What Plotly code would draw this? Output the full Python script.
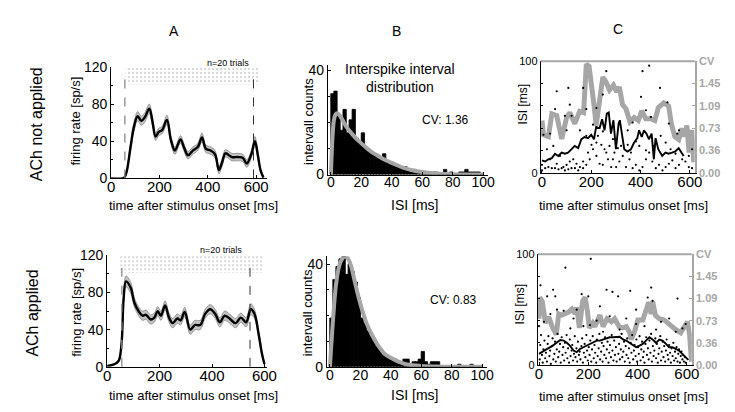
import plotly.graph_objects as go

FONT = "Liberation Sans, Arial, sans-serif"
W, H = 735, 412
GREY = "#a6a6a6"

# ---------------- panel A : PSTH, firing rate [sp/s] ----------------
psth_t_top = [0, 45, 55, 65, 80, 95, 110, 125, 140, 158, 172, 184, 197, 211, 231, 247, 264, 287, 302, 318,
              338, 359, 376, 392, 412, 430, 446, 460, 473, 500, 527, 545, 561, 580, 595, 607, 618, 630]
psth_r_top = [0, 0, 1, 8, 33, 56, 67, 62, 66, 75, 60, 45, 50, 52, 63, 42, 30, 42, 33, 25,
              30, 34, 44, 32, 30, 26, 9, 18, 27, 23, 23, 22, 16, 26, 40, 25, 9, 1]
psth_sem_top = [0, 0, 1, 2, 4, 5, 5, 5, 5, 5, 5, 4, 4, 4, 5, 4, 4, 4, 4, 4,
                4, 4, 5, 4, 4, 4, 4, 4, 4, 4, 4, 4, 4, 4, 5, 4, 2, 1]

psth_t_bot = [0, 20, 35, 45, 55, 63, 72, 90, 104, 122, 135, 148, 166, 180, 193, 205, 221, 236, 250, 268,
              280, 296, 317, 335, 355, 374, 393, 412, 430, 448, 467, 490, 510, 530, 548, 562, 578, 590, 600]
psth_r_bot = [1, 2, 4, 7, 25, 74, 92, 85, 69, 59, 55, 56, 51, 53, 60, 55, 66, 53, 47, 52,
              50, 59, 40, 45, 45, 57, 62, 57, 48, 55, 52, 47, 53, 48, 62, 57, 35, 15, 3]
psth_sem_bot = [0, 1, 1, 2, 3, 5, 6, 6, 5, 5, 5, 5, 5, 5, 5, 5, 5, 5, 5, 5,
                5, 5, 5, 5, 5, 5, 5, 5, 5, 5, 5, 5, 5, 5, 6, 5, 4, 2, 1]

# stimulus on / off (dashed lines) and extent of the spike raster (20 trials)
stim_top = [57, 589]
stim_bot = [56, 545]
raster_top = dict(t0=60, t1=612, lo=101, hi=119)
raster_bot = dict(t0=50, t1=596, lo=101, hi=120)

# ---------------- panel B : ISI histograms (2 ms bins) ----------------
isi_bins = list(range(1, 100, 2))
isi_counts_top = [31, 32, 23, 17, 25, 16, 21, 25, 14, 12, 16, 10, 9, 8, 8, 7, 6, 8, 5, 4,
                  4, 3, 3, 2, 3, 2, 1, 2, 1, 1, 1, 1, 0, 1, 1, 0, 0, 2, 0, 1,
                  0, 0, 1, 1, 2, 1, 1, 1, 1, 0]
isi_counts_bot = [19, 34, 39, 42, 43, 36, 40, 37, 33, 27, 19, 17, 14, 12, 10, 8, 7, 5, 4, 4,
                  3, 3, 2, 2, 3, 3, 1, 2, 2, 3, 6, 2, 1, 2, 2, 2, 0, 0, 0, 0,
                  0, 0, 1, 0, 0, 0, 1, 0, 0, 0]
fit_x_top = [0, 1, 2, 3, 4, 6, 8, 10, 14, 18, 22, 26, 30, 35, 40, 45, 50, 55, 60, 70, 80, 90, 100]
fit_y_top = [0, 14, 21, 23, 23.5, 22.5, 20.5, 18.5, 15.5, 13, 11, 9, 7.5, 5.8, 4.5, 3.2, 2.2, 1.5, 1,
             0.4, 0.15, 0.05, 0]
fit_x_bot = [0, 2, 4, 6, 8, 10, 12, 14, 16, 18, 20, 24, 28, 32, 36, 40, 45, 50, 60, 70, 80, 90, 100]
fit_y_bot = [0, 18, 32, 39, 42, 43, 42, 39, 34, 29, 24.5, 17, 12, 8, 5, 3.5, 2, 1, 0.3, 0.1, 0, 0, 0]
cv_text = ["CV: 1.36", "CV: 0.83"]

# ---------------- panel C : ISI vs time, running mean and CV ----------------
dots_top = [(261, 91), (408, 91), (435, 96), (107, 76), (60, 73), (167, 76), (479, 76), (402, 68), (247, 70),
            (113, 61), (53, 57), (93, 51), (120, 51), (180, 57), (221, 58), (368, 45), (422, 56), (442, 50),
            (509, 63), (515, 44), (556, 38), (549, 35), (6, 34), (33, 35), (100, 38), (154, 38), (207, 43),
            (288, 30), (348, 38), (247, 37), (180, 33), (301, 27), (381, 28), (0, 7), (20, 21), (46, 24),
            (73, 15), (33, 12), (60, 8), (87, 5), (100, 7), (113, 10), (127, 12), (140, 8), (154, 5),
            (167, 4), (180, 7), (194, 12), (207, 21), (221, 15), (234, 8), (247, 7), (261, 18), (274, 24),
            (288, 12), (301, 5), (314, 10), (328, 15), (341, 5), (355, 12), (368, 4), (381, 7), (395, 2),
            (408, 5), (422, 12), (435, 18), (448, 10), (462, 4), (475, 7), (489, 2), (502, 5), (515, 8),
            (529, 11), (542, 4), (556, 7), (569, 12), (582, 10), (596, 5), (609, 4), (40, 4), (53, 4),
            (67, 3), (80, 4), (93, 2), (107, 3), (120, 4), (134, 4), (147, 2), (0, 2), (13, 4), (26, 5),
            (167, 10), (187, 18), (201, 25), (221, 27), (227, 33), (241, 25), (254, 21), (268, 12),
            (281, 5), (294, 18), (308, 22), (321, 24), (348, 25), (361, 18), (395, 24), (422, 20),
            (455, 24), (482, 33), (502, 27), (522, 21), (542, 17), (596, 15), (609, 21)]
mean_t_top = [0, 13, 26, 40, 53, 66, 80, 93, 106, 120, 133, 147, 160, 173, 187, 200, 211, 220, 234, 244,
              254, 263, 271, 280, 290, 300, 311, 316, 324, 334, 347, 361, 374, 387, 394, 405, 414, 424, 434,
              445, 454, 461, 472, 488, 501, 514, 528, 541, 555, 568, 575]
mean_isi_top = [11, 10, 12, 13, 17, 15, 18, 17, 18, 21, 24, 22, 30, 32, 31, 34, 30, 41, 40, 48,
                38, 53, 54, 35, 47, 21, 44, 47, 35, 21, 19, 21, 27, 31, 38, 32, 38, 35, 30,
                35, 12, 31, 21, 15, 18, 17, 18, 19, 22, 18, 15]
cv_t_top = [0, 6, 26, 40, 60, 80, 100, 113, 133, 153, 169, 180, 191, 201, 211, 220, 234, 247, 260, 274,
            290, 303, 314, 327, 341, 357, 374, 391, 405, 421, 441, 458, 472, 494, 514, 525, 539, 555, 568,
            579, 588, 597, 608, 616]
cv_top = [0.85, 0.62, 0.59, 0.96, 0.93, 0.55, 0.90, 0.98, 0.80, 1.00, 0.98, 1.77, 1.74, 1.48, 1.11, 0.77,
          1.27, 1.56, 1.48, 1.35, 1.43, 1.32, 1.40, 1.11, 1.04, 0.83, 0.90, 0.85, 1.01, 0.88, 0.88, 0.85,
          1.06, 1.14, 1.09, 0.80, 0.59, 0.54, 0.72, 0.59, 0.77, 0.33, 0.70, 0.17]

dots_bot = [(210, 96), (107, 88), (6, 72), (57, 68), (33, 62), (66, 62), (173, 64), (200, 62), (274, 68),
            (298, 66), (321, 62), (370, 67), (455, 70), (562, 60), (441, 61), (247, 53), (394, 50),
            (461, 58), (73, 50), (100, 49), (153, 50), (46, 46), (140, 42), (234, 40), (287, 44), (207, 36),
            (354, 42), (394, 37), (495, 39), (528, 42), (582, 33), (595, 37), (0, 35), (20, 39), (127, 33),
            (180, 35), (260, 30), (327, 32), (428, 35), (475, 32), (555, 30),
            (3, 5), (5, 18), (8, 27), (12, 9), (15, 2), (18, 14), (22, 22), (25, 6), (28, 11), (32, 3),
            (35, 19), (38, 26), (42, 8), (45, 13), (48, 1), (52, 17), (55, 24), (58, 5), (62, 10), (65, 21),
            (68, 3), (72, 14), (75, 28), (78, 7), (82, 12), (85, 19), (88, 2), (92, 25), (95, 9), (98, 16),
            (102, 4), (105, 20), (108, 11), (112, 27), (115, 6), (118, 15), (122, 2), (125, 23), (128, 8),
            (132, 13), (135, 18), (138, 4), (142, 10), (145, 26), (148, 7), (152, 15), (155, 3), (158, 21),
            (162, 9), (165, 12), (168, 5), (172, 17), (175, 24), (178, 2), (182, 11), (185, 19), (188, 7),
            (192, 27), (195, 13), (198, 4), (202, 16), (205, 9), (208, 22), (212, 3), (215, 14), (218, 26),
            (222, 6), (225, 18), (228, 11), (232, 2), (235, 23), (238, 8), (242, 15), (245, 28), (248, 5),
            (252, 12), (255, 20), (258, 3), (262, 17), (265, 9), (268, 25), (272, 6), (275, 14), (278, 21),
            (282, 2), (285, 11), (288, 18), (292, 7), (295, 27), (298, 13), (302, 4), (305, 22), (308, 9),
            (312, 16), (315, 3), (318, 25), (322, 10), (325, 19), (328, 5), (332, 14), (335, 28), (338, 7),
            (342, 12), (345, 21), (348, 3), (352, 17), (355, 9), (358, 24), (362, 6), (365, 15), (368, 2),
            (372, 20), (375, 11), (378, 27), (382, 5), (385, 13), (388, 18), (392, 8), (395, 23), (398, 3),
            (402, 16), (405, 10), (408, 26), (412, 4), (415, 14), (418, 21), (422, 7), (425, 12), (428, 2),
            (432, 19), (435, 25), (438, 9), (442, 15), (445, 5), (448, 22), (452, 11), (455, 28), (458, 3),
            (462, 17), (465, 8), (468, 13), (472, 24), (475, 6), (478, 19), (482, 2), (485, 10), (488, 15),
            (492, 26), (495, 4), (498, 12), (502, 21), (505, 7), (508, 17), (512, 3), (515, 13), (518, 23),
            (522, 9), (525, 5), (528, 18), (532, 11), (535, 2), (538, 15), (542, 8), (545, 20), (548, 4),
            (552, 12), (555, 6), (558, 16), (562, 3), (565, 10), (568, 14), (572, 2), (575, 8), (578, 12),
            (582, 5), (585, 9), (588, 3), (592, 7), (595, 2)]
mean_t_bot = [0, 13, 33, 53, 73, 86, 100, 113, 127, 140, 153, 167, 180, 193, 207, 220, 234, 247, 260, 274,
              287, 301, 314, 327, 341, 354, 367, 381, 394, 408, 421, 434, 448, 461, 475, 488, 501, 515, 528,
              541, 555, 568, 581, 595, 606]
mean_isi_bot = [10, 12, 14.5, 17, 20, 22.5, 22, 20, 17, 13, 11.5, 14.5, 16, 17.5, 19, 20, 22, 22, 23, 24,
                25, 25, 25.5, 25.5, 23, 22, 20, 17.5, 16, 17.5, 19, 22, 25, 23, 20, 23, 22, 19, 16,
                16, 14.5, 13, 10, 7, 4.5]
cv_t_bot = [0, 3, 13, 26, 40, 53, 70, 80, 93, 106, 120, 133, 147, 153, 164, 177, 187, 196, 204, 218,
            227, 247, 260, 276, 294, 307, 325, 341, 354, 368, 374, 388, 401, 421, 435, 445, 455, 461, 472,
            488, 508, 521, 541, 555, 575, 588, 602, 611, 619]
cv_bot = [0.76, 1.11, 1.05, 0.69, 0.79, 0.63, 0.50, 0.84, 0.82, 0.84, 0.87, 0.92, 0.84, 0.95, 0.61, 1.05,
          1.11, 0.90, 0.61, 0.69, 0.63, 0.82, 0.63, 0.76, 0.71, 0.76, 0.63, 0.61, 0.63, 0.53, 0.42, 0.55,
          0.74, 0.74, 0.95, 1.03, 0.84, 1.05, 0.82, 0.76, 0.74, 0.69, 0.63, 0.58, 0.53, 0.63, 0.71, 0.50, 0.05]
cv_tickvals = [0, 0.364, 0.728, 1.092, 1.456, 1.82]
cv_ticktext = ["0.00", "0.36", "0.73", "1.09", "1.45", "CV"]


def xdom(a, b):
    return [a / W, b / W]


def ydom(top, bottom):
    return [1 - bottom / H, 1 - top / H]


def axis(domain, rng, anchor, size=14, **kw):
    d = dict(domain=domain, range=rng, anchor=anchor, showline=True, linecolor="black", linewidth=1,
             ticks="inside", ticklen=3, tickcolor="black", showgrid=False, zeroline=False,
             tickfont=dict(family=FONT, size=size, color="black"))
    d.update(kw)
    return d


fig = go.Figure()


def add_psth(t, r, sem, stim, raster, xa, ya):
    lower = [a - b for a, b in zip(r, sem)]
    upper = [a + b for a, b in zip(r, sem)]
    # spike raster drawn as a stippled band
    fig.add_bar(x=[(raster["t0"] + raster["t1"]) / 2], y=[raster["hi"] - raster["lo"]],
                base=[raster["lo"]], width=[raster["t1"] - raster["t0"]],
                marker=dict(color="white", line_width=0,
                            pattern=dict(shape=".", fgcolor="#9c9c9c", bgcolor="white", size=4, solidity=0.22)),
                xaxis=xa, yaxis=ya)
    fig.add_scatter(x=t, y=lower, mode="lines", line=dict(color="#6e6e6e", width=0.6, shape="spline"),
                    xaxis=xa, yaxis=ya)
    fig.add_scatter(x=t, y=upper, mode="lines", fill="tonexty", fillcolor="#c2c2c2",
                    line=dict(color="#6e6e6e", width=0.6, shape="spline"), xaxis=xa, yaxis=ya)
    fig.add_scatter(x=t, y=r, mode="lines", line=dict(color="black", width=2.4, shape="spline"),
                    xaxis=xa, yaxis=ya)
    fig.add_scatter(x=[stim[0], stim[0]], y=[0, 111], mode="lines",
                    line=dict(color="#8a8a8a", width=1.3, dash="dash"), xaxis=xa, yaxis=ya)
    fig.add_scatter(x=[stim[1], stim[1]], y=[0, 111], mode="lines",
                    line=dict(color="#333333", width=1, dash="dash"), xaxis=xa, yaxis=ya)


def add_hist(counts, fx, fy, xa, ya):
    fig.add_bar(x=isi_bins, y=counts, width=2.2, marker=dict(color="black", line=dict(color="black", width=0.8)),
                xaxis=xa, yaxis=ya)
    fig.add_scatter(x=fx, y=fy, mode="lines", line=dict(color=GREY, width=4, shape="spline"),
                    xaxis=xa, yaxis=ya)


def add_isi(dots, mt, mi, ct, cv, xa, ya_cv, ya_isi):
    fig.add_scatter(x=ct, y=cv, mode="lines", line=dict(color=GREY, width=5), xaxis=xa, yaxis=ya_cv)
    fig.add_scatter(x=[d[0] for d in dots], y=[d[1] for d in dots], mode="markers",
                    marker=dict(color="black", size=2.2), xaxis=xa, yaxis=ya_isi)
    fig.add_scatter(x=mt, y=mi, mode="lines", line=dict(color="black", width=1.9), xaxis=xa, yaxis=ya_isi)


add_psth(psth_t_top, psth_r_top, psth_sem_top, stim_top, raster_top, "x", "y")
add_hist(isi_counts_top, fit_x_top, fit_y_top, "x2", "y2")
add_isi(dots_top, mean_t_top, mean_isi_top, cv_t_top, cv_top, "x3", "y3", "y4")
add_psth(psth_t_bot, psth_r_bot, psth_sem_bot, stim_bot, raster_bot, "x5", "y5")
add_hist(isi_counts_bot, fit_x_bot, fit_y_bot, "x6", "y6")
add_isi(dots_bot, mean_t_bot, mean_isi_bot, cv_t_bot, cv_bot, "x7", "y7", "y8")

minor20 = dict(ticks="inside", ticklen=2, dtick=20, tickcolor="black")
minor10 = dict(ticks="inside", ticklen=2, dtick=10, tickcolor="black")
XSTAND = -5


def cv_axis(domain, anchor):
    return dict(domain=domain, range=[0, 1.82], anchor=anchor, side="right", showline=True, linecolor=GREY,
                linewidth=2, ticks="inside", ticklen=3, tickcolor=GREY, showgrid=False, zeroline=False,
                tickvals=cv_tickvals, ticktext=cv_ticktext,
                tickfont=dict(family=FONT, size=11, color=GREY, weight="bold"))


layout_axes = dict(
    # A top
    xaxis=axis(xdom(101, 260), [0, 645], "y", size=15, tickvals=[0, 200, 400, 600], ticklabelstandoff=XSTAND),
    yaxis=axis(ydom(53, 169), [0, 120], "x", tickvals=[0, 40, 80, 120], minor=minor20),
    # B top
    xaxis2=axis(xdom(322, 485), [-2, 103], "y2", tickvals=[0, 20, 40, 60, 80, 100], ticklabelstandoff=XSTAND),
    yaxis2=axis(ydom(51, 165), [0, 42], "x2", tickvals=[0, 40], minor=minor10),
    # C top
    xaxis3=axis(xdom(539, 696), [-5, 620], "y3", size=15, tickvals=[0, 200, 400, 600], ticklabelstandoff=XSTAND),
    yaxis3=cv_axis(ydom(47, 163), "x3"),
    yaxis4=axis(ydom(47, 163), [0, 100], "x3", size=11, overlaying="y3", side="left",
                tickvals=[0, 100], minor=minor20),
    # A bottom
    xaxis5=axis(xdom(97, 260), [0, 610], "y5", size=15, tickvals=[0, 200, 400, 600], ticklabelstandoff=XSTAND),
    yaxis5=axis(ydom(249, 365), [0, 120], "x5", tickvals=[0, 40, 80, 120], minor=minor20),
    # B bottom
    xaxis6=axis(xdom(321, 484), [-2, 103], "y6", tickvals=[0, 20, 40, 60, 80, 100], ticklabelstandoff=XSTAND),
    yaxis6=axis(ydom(250, 365), [0, 43], "x6", tickvals=[0, 40], minor=minor10),
    # C bottom
    xaxis7=axis(xdom(536, 693), [-5, 620], "y7", size=15, tickvals=[0, 200, 400, 600], ticklabelstandoff=XSTAND),
    yaxis7=cv_axis(ydom(248, 363), "x7"),
    yaxis8=axis(ydom(248, 363), [0, 100], "x7", size=11, overlaying="y7", side="left",
                tickvals=[0, 100], minor=minor20),
)


def note(text, px, py, size=13, angle=0, color="black"):
    return dict(text=text, x=px / W, y=1 - py / H, xref="paper", yref="paper", showarrow=False,
                xanchor="center", yanchor="middle", textangle=angle,
                font=dict(family=FONT, size=size, color=color))


annotations = [
    note("A", 165, 16, 14), note("B", 392, 16, 14), note("C", 618, 14, 14),
    note("ACh not applied", 25, 113, 16, -90), note("ACh applied", 20, 309, 16, -90),
    note("firing rate [sp/s]", 65, 109, 13, -90), note("firing rate [sp/s]", 65, 308, 13, -90),
    note("time after stimulus onset [ms]", 185, 197, 13), note("time after stimulus onset [ms]", 185, 395, 13),
    note("n=20 trials", 220, 49, 9), note("n=20 trials", 213, 243, 9),
    note("intervall counts", 302, 110, 13, -90), note("intervall counts", 301, 309, 13, -90),
    note("ISI [ms]", 410, 197, 14), note("ISI [ms]", 410, 394, 14),
    note("Interspike interval<br>distribution", 396, 65, 14),
    note(cv_text[0], 442, 108, 12), note(cv_text[1], 450, 295, 12),
    note("ISI [ms]", 521, 92, 12, -90), note("ISI [ms]", 518, 300, 12, -90),
    note("time after stimulus onset [ms]", 623, 197, 13), note("time after stimulus onset [ms]", 623, 396, 13),
]

shapes = [
    dict(type="line", xref="x3 domain", yref="y3 domain", x0=0, x1=1, y0=1, y1=1,
         line=dict(color=GREY, width=2)),
    dict(type="line", xref="x7 domain", yref="y7 domain", x0=0, x1=1, y0=1, y1=1,
         line=dict(color=GREY, width=2)),
]

fig.update_layout(width=W, height=H, margin=dict(l=0, r=0, t=0, b=0), showlegend=False,
                  paper_bgcolor="white", plot_bgcolor="rgba(0,0,0,0)",
                  annotations=annotations, shapes=shapes, **layout_axes)
fig.write_html("out.html")
